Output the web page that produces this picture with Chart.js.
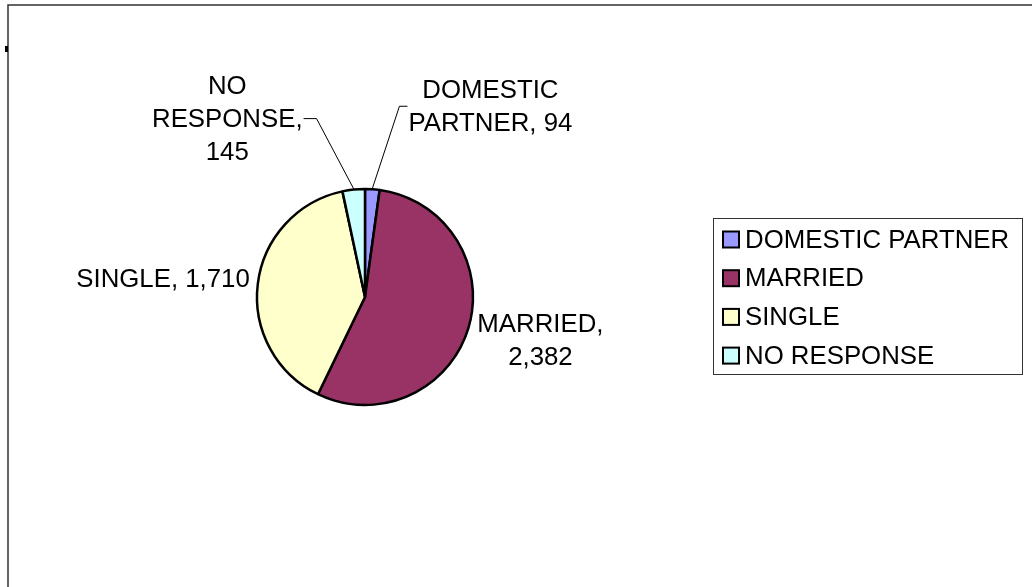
<!DOCTYPE html>
<html>
<head>
<meta charset="utf-8">
<script src="https://cdn.jsdelivr.net/npm/chart.js@4.4.1/dist/chart.umd.min.js"></script>
<style>
  html, body { margin: 0; padding: 0; background: #ffffff; }
  #wrap { width: 1032px; height: 587px; position: relative; }
</style>
</head>
<body>
<div id="wrap"><canvas id="c" width="1032" height="587"></canvas></div>
<script>
// ---- data ----
const categories = ['DOMESTIC PARTNER', 'MARRIED', 'SINGLE', 'NO RESPONSE'];
const values = [94, 2382, 1710, 145];
const labelNames = ['DOMESTIC PARTNER', 'MARRIED', 'SINGLE', 'NO RESPONSE'];
const sliceColors = ['#9999FF', '#993366', '#FFFFCC', '#CCFFFF'];

// ---- label layout (offsets from the slice's outer edge at its mid-angle) ----
const labelLayout = [
  { lines: (n, v) => ['DOMESTIC', 'PARTNER, ' + v], leader: { dx: 27, dy: -82, tick: 8 }, side: 'right' },
  { lines: (n, v) => ['MARRIED,', v], offset: { dx: 8, dy: 12 }, side: 'right' },
  { lines: (n, v) => [n + ', ' + v], offset: { dx: -7, dy: -5 }, side: 'left' },
  { lines: (n, v) => ['NO', 'RESPONSE,', v], leader: { dx: -37, dy: -70, tick: -13 }, side: 'left' }
];

const FONT = '25.8px "Liberation Sans", Arial, sans-serif';
const LINE_H = 33;

function fmt(v) { return v.toLocaleString('en-US'); }

const framePlugin = {
  id: 'frame',
  beforeDraw(chart) {
    const ctx = chart.ctx;
    ctx.save();
    ctx.fillStyle = '#ffffff';
    ctx.fillRect(0, 0, chart.width, chart.height);
    ctx.strokeStyle = '#333333';
    ctx.lineWidth = 1.5;
    ctx.beginPath();
    ctx.moveTo(8, chart.height);
    ctx.lineTo(8, 5);
    ctx.lineTo(chart.width, 5);
    ctx.stroke();
    ctx.fillStyle = '#000000';
    ctx.fillRect(5, 46, 3, 6);
    ctx.restore();
  }
};

const labelPlugin = {
  id: 'sliceLabels',
  afterDatasetsDraw(chart) {
    const ctx = chart.ctx;
    const meta = chart.getDatasetMeta(0);
    const data = chart.data.datasets[0].data;
    ctx.save();
    ctx.font = FONT;
    ctx.fillStyle = '#000000';
    ctx.textBaseline = 'middle';
    meta.data.forEach((arc, i) => {
      const p = arc.getProps(['x', 'y', 'startAngle', 'endAngle', 'outerRadius'], true);
      const mid = (p.startAngle + p.endAngle) / 2;
      const ex = p.x + Math.cos(mid) * (p.outerRadius + 1);
      const ey = p.y + Math.sin(mid) * (p.outerRadius + 1);
      const L = labelLayout[i];
      const lines = L.lines(chart.data.labels[i], fmt(data[i]));
      const widths = lines.map(s => ctx.measureText(s).width);
      const maxW = Math.max(...widths);
      let anchorX, midY;
      if (L.leader) {
        const bx = ex + L.leader.dx, by = ey + L.leader.dy;
        const tx = bx + L.leader.tick;
        ctx.strokeStyle = '#000000';
        ctx.lineWidth = 1;
        ctx.beginPath();
        ctx.moveTo(ex, ey);
        ctx.lineTo(bx, by);
        ctx.lineTo(tx, by);
        ctx.stroke();
        anchorX = tx + (L.side === 'right' ? 1 : -1);
        midY = by;
      } else {
        anchorX = ex + L.offset.dx;
        midY = ey + L.offset.dy;
      }
      const cx = L.side === 'right' ? anchorX + maxW / 2 : anchorX - maxW / 2;
      ctx.textAlign = 'center';
      const top = midY - (lines.length - 1) * LINE_H / 2;
      lines.forEach((s, k) => ctx.fillText(s, cx, top + k * LINE_H + 1));
    });
    ctx.restore();
  }
};

const legendPlugin = {
  id: 'boxLegend',
  afterDraw(chart) {
    const ctx = chart.ctx;
    const ds = chart.data.datasets[0];
    const box = { x: 713, y: 218, w: 309, h: 156 };
    ctx.save();
    ctx.strokeStyle = '#333333';
    ctx.lineWidth = 1;
    ctx.strokeRect(box.x + 0.5, box.y + 0.5, box.w, box.h);
    ctx.font = FONT;
    ctx.textAlign = 'left';
    ctx.textBaseline = 'middle';
    chart.data.labels.forEach((lab, i) => {
      const cy = 239.5 + i * 38.7;
      ctx.fillStyle = ds.backgroundColor[i];
      ctx.fillRect(723, cy - 8, 16, 16);
      ctx.strokeStyle = '#000000';
      ctx.lineWidth = 2;
      ctx.strokeRect(723, cy - 8, 16, 16);
      ctx.fillStyle = '#000000';
      ctx.fillText(lab, 745, cy + 1);
    });
    ctx.restore();
  }
};

new Chart(document.getElementById('c'), {
  type: 'pie',
  data: {
    labels: labelNames,
    datasets: [{
      data: values,
      backgroundColor: sliceColors,
      borderColor: '#000000',
      borderWidth: 2.5
    }]
  },
  options: {
    responsive: false,
    animation: false,
    radius: 108,
    layout: { padding: { left: 245, right: 547, top: 177, bottom: 170 } },
    plugins: {
      legend: { display: false },
      tooltip: { enabled: false },
      title: { display: false }
    }
  },
  plugins: [framePlugin, labelPlugin, legendPlugin]
});
</script>
</body>
</html>
